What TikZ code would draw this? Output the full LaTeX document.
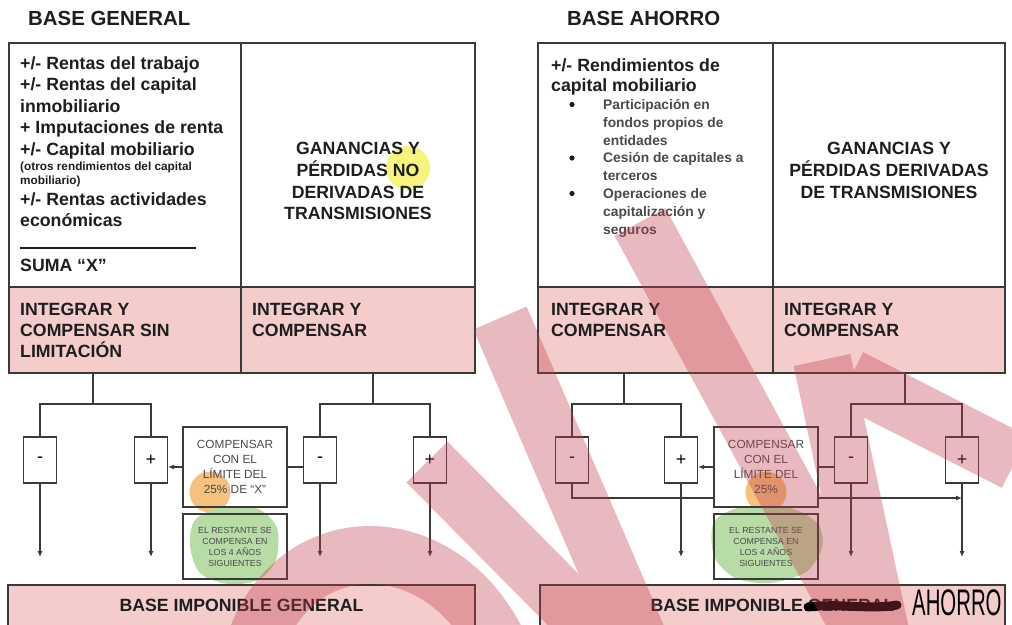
\documentclass[tikz,border=0pt]{standalone}
\usepackage{fontspec}
\setmainfont{Liberation Sans}
\usetikzlibrary{arrows.meta}
\definecolor{pinkc}{HTML}{F4CCCC}
\definecolor{linec}{HTML}{3A3A3A}
\definecolor{textc}{HTML}{1E1E1E}
\definecolor{grayt}{HTML}{4A4A4A}
\definecolor{hly}{HTML}{F6F47E}
\definecolor{hlo}{HTML}{F5C27E}
\definecolor{hlg}{HTML}{B7DCA6}
\definecolor{wmc}{RGB}{190,60,75}
\begin{document}
\begin{tikzpicture}[x=1pt,y=-1pt,
  title/.style={font=\bfseries\fontsize{20.4}{24}\selectfont, text=textc, anchor=base west, inner sep=0},
  big/.style={font=\bfseries\fontsize{17.7}{21}\selectfont, text=textc, anchor=base west, inner sep=0},
  bigc/.style={font=\bfseries\fontsize{17.7}{21}\selectfont, text=textc, anchor=base, inner sep=0},
  mid/.style={font=\bfseries\fontsize{13.8}{18}\selectfont, text=grayt, anchor=base west, inner sep=0},
  tiny/.style={font=\bfseries\fontsize{11.8}{13}\selectfont, text=textc, anchor=base west, inner sep=0},
  tbl/.style={draw=linec, line width=1.3},
  sbox/.style={draw=linec, line width=1.1, minimum width=33, minimum height=46, inner sep=0, font=\fontsize{18}{18}\selectfont},
  cbox/.style={draw=linec, line width=1.1, minimum width=104, minimum height=80, inner sep=0},
  rbox/.style={draw=linec, line width=1.1, minimum width=104, minimum height=65, inner sep=0},
  ctext/.style={font=\fontsize{11.8}{15}\selectfont, text=grayt, align=center, inner sep=0},
  rtext/.style={font=\fontsize{8.8}{11}\selectfont, text=grayt, align=center, inner sep=0},
  conn/.style={draw=linec, line width=1.1},
  arr/.style={conn, -{Latex[length=6pt,width=5pt]}},
  wmband/.style={line width=58, draw=wmc, line cap=butt}
]
\useasboundingbox (0,0) rectangle (1012,624);
\fill[white] (0,0) rectangle (1012,624);

% ---------- titles
\node[title] (tg) at (28,25.5) {BASE GENERAL};
\node[title] (ta) at (567,25.5) {BASE AHORRO};

% ---------- pink fills
\fill[pinkc] (9,287) rectangle (475,373);
\fill[pinkc] (538,287) rectangle (1005,373);
\fill[pinkc] (8,585) rectangle (475,640);
\fill[pinkc] (540,585) rectangle (1005,640);

% ---------- highlighter blobs
\fill[hly] (408,168) circle (22);
\fill[hlo] (210,492) circle (20.5);
\fill[hlo] (766,492) circle (20.5);
\fill[hlg] plot[smooth cycle] coordinates {(195,520) (222,507) (258,509) (277,528) (276,560) (258,580) (228,584) (200,573) (190,546)};
\fill[hlg] plot[smooth cycle] coordinates {(714,522) (742,507) (790,508) (818,524) (822,548) (806,572) (770,583) (735,578) (714,556)};

% ---------- tables
\draw[tbl] (9,43) rectangle (475,373);
\draw[tbl] (9,287) -- (475,287);
\draw[tbl] (241,43) -- (241,373);
\draw[tbl] (538,43) rectangle (1005,373);
\draw[tbl] (538,287) -- (1005,287);
\draw[tbl] (773,43) -- (773,373);
\draw[tbl] (8,585) rectangle (475,640);
\draw[tbl] (540,585) rectangle (1005,640);

% ---------- left table text
\node[big] (g1) at (20,69) {+/- Rentas del trabajo};
\node[big] (g2) at (20,90.5) {+/- Rentas del capital};
\node[big] (g3) at (20,112) {inmobiliario};
\node[big] (g4) at (20,133.5) {+ Imputaciones de renta};
\node[big] (g5) at (20,155) {+/- Capital mobiliario};
\node[tiny] (g6) at (20,170) {(otros rendimientos del capital};
\node[tiny] (g7) at (20,184.5) {mobiliario)};
\node[big] (g8) at (20,205) {+/- Rentas actividades};
\node[big] (g9) at (20,226) {económicas};
\draw[draw=textc, line width=1.2] (20,248) -- (196,248);
\node[big] (g10) at (20,271) {SUMA “X”};

\node[bigc] (n1) at (358,154) {GANANCIAS Y};
\node[bigc] (n2) at (358,176) {PÉRDIDAS NO};
\node[bigc] (n3) at (358,198) {DERIVADAS DE};
\node[bigc] (n4) at (358,219.5) {TRANSMISIONES};

\node[big] (i1) at (20,315.5) {INTEGRAR Y};
\node[big] (i2) at (20,336.5) {COMPENSAR SIN};
\node[big] (i3) at (20,357.5) {LIMITACIÓN};
\node[big] (i4) at (252,315.5) {INTEGRAR Y};
\node[big] (i5) at (252,336.5) {COMPENSAR};

% ---------- right table text
\node[big] (a1) at (551,71) {+/- Rendimientos de};
\node[big] (a2) at (551,91.5) {capital mobiliario};
\node[mid] (b1) at (603,109.5) {Participación en};
\node[mid] (b2) at (603,127.3) {fondos propios de};
\node[mid] (b3) at (603,145.1) {entidades};
\node[mid] (b4) at (603,162.9) {Cesión de capitales a};
\node[mid] (b5) at (603,180.7) {terceros};
\node[mid] (b6) at (603,198.5) {Operaciones de};
\node[mid] (b7) at (603,216.3) {capitalización y};
\node[mid] (b8) at (603,234.1) {seguros};
\fill[textc] (572,104.5) circle (2.6);
\fill[textc] (572,158) circle (2.6);
\fill[textc] (572,193.5) circle (2.6);

\node[bigc] (d1) at (889,154) {GANANCIAS Y};
\node[bigc] (d2) at (889,176) {PÉRDIDAS DERIVADAS};
\node[bigc] (d3) at (889,198) {DE TRANSMISIONES};

\node[big] (j1) at (551,315.5) {INTEGRAR Y};
\node[big] (j2) at (551,336.5) {COMPENSAR};
\node[big] (j3) at (784,315.5) {INTEGRAR Y};
\node[big] (j4) at (784,336.5) {COMPENSAR};

% ---------- bottom bars text
\node[bigc] (bg) at (241.5,611.5) {BASE IMPONIBLE GENERAL};
\node[bigc] (ba) at (772.5,611.5) {BASE IMPONIBLE GENERAL};
\draw[line width=9, line cap=round, draw=black] (808,607) .. controls (840,603) and (870,610) .. (897,605);
\node[anchor=base west, inner sep=0] (ah) at (912,615) {\scalebox{0.55}[1]{\fontsize{37}{37}\selectfont AHORRO}};

% ---------- flow: base general
\coordinate (t1a) at (93,373);
\coordinate (t1b) at (93,404);
\node[sbox] (m1) at (40,460) {-};
\node[sbox] (p1) at (151,460) {+};
\node[cbox] (c1) at (235,467) {};
\node[ctext] (c1t) at (235,467) {COMPENSAR\\CON EL\\LÍMITE DEL\\25\% DE “X”};
\node[rbox] (r1) at (235,546.5) {};
\node[rtext] (r1t) at (235,546.5) {EL RESTANTE SE\\COMPENSA EN\\LOS 4 AÑOS\\SIGUIENTES};
\node[sbox] (m2) at (320,460) {-};
\node[sbox] (p2) at (430,460) {+};
\coordinate (t2a) at (373,373);
\coordinate (t2b) at (373,404);

\draw[conn] (t1a) -- (t1b);
\draw[conn] (m1.north) |- (t1b) -| (p1.north);
\draw[conn] (t2a) -- (t2b);
\draw[conn] (m2.north) |- (t2b) -| (p2.north);
\coordinate (e1) at (40,557);
\coordinate (e2) at (151,557);
\coordinate (e3) at (320,557);
\coordinate (e4) at (430,557);
\draw[arr] (m1.south) -- (e1);
\draw[arr] (p1.south) -- (e2);
\draw[arr] (m2.south) -- (e3);
\draw[arr] (p2.south) -- (e4);
\draw[arr] (c1.west) -- (c1.west -| p1.east);
\draw[conn] (c1.east) -- (c1.east -| m2.west);

% ---------- flow: base ahorro
\coordinate (t3a) at (624,373);
\coordinate (t3b) at (624,404);
\node[sbox] (m3) at (572,460) {-};
\node[sbox] (p3) at (681,460) {+};
\node[cbox] (c2) at (766,467) {};
\node[ctext] (c2t) at (766,467) {COMPENSAR\\CON EL\\LÍMITE DEL\\25\%};
\node[rbox] (r2) at (766,546.5) {};
\node[rtext] (r2t) at (766,546.5) {EL RESTANTE SE\\COMPENSA EN\\LOS 4 AÑOS\\SIGUIENTES};
\node[sbox] (m4) at (851,460) {-};
\node[sbox] (p4) at (962,460) {+};
\coordinate (t4a) at (905,373);
\coordinate (t4b) at (905,404);

\draw[conn] (t3a) -- (t3b);
\draw[conn] (m3.north) |- (t3b) -| (p3.north);
\draw[conn] (t4a) -- (t4b);
\draw[conn] (m4.north) |- (t4b) -| (p4.north);
\coordinate (f2) at (681,557);
\coordinate (f3) at (851,557);
\coordinate (f4) at (962,557);
\draw[arr] (p3.south) -- (f2);
\draw[arr] (m4.south) -- (f3);
\draw[arr] (p4.south) -- (f4);
\draw[arr] (c2.west) -- (c2.west -| p3.east);
\draw[conn] (c2.east) -- (c2.east -| m4.west);
\coordinate (c2lo) at (714,498);
\coordinate (c2ro) at (818,498);
\coordinate (p4lo) at (962,498);
\draw[conn] (m3.south) |- (c2lo);
\draw[arr] (c2ro) -- (p4lo);

% ---------- watermark
\begin{scope}[transparency group, opacity=0.35]
  \draw[wmband] (427,462) -- (615,652);
  \draw[wmband] (250,660) .. controls (285,520) and (450,520) .. (505,660);
  \draw[wmband] (500,318) -- (645,655);
  \draw[wmband] (640,222) -- (875,655);
  \draw[wmband] (822,360) -- (885,655);
  \draw[wmband] (850,378) -- (1015,462);
\end{scope}
\end{tikzpicture}
\end{document}
